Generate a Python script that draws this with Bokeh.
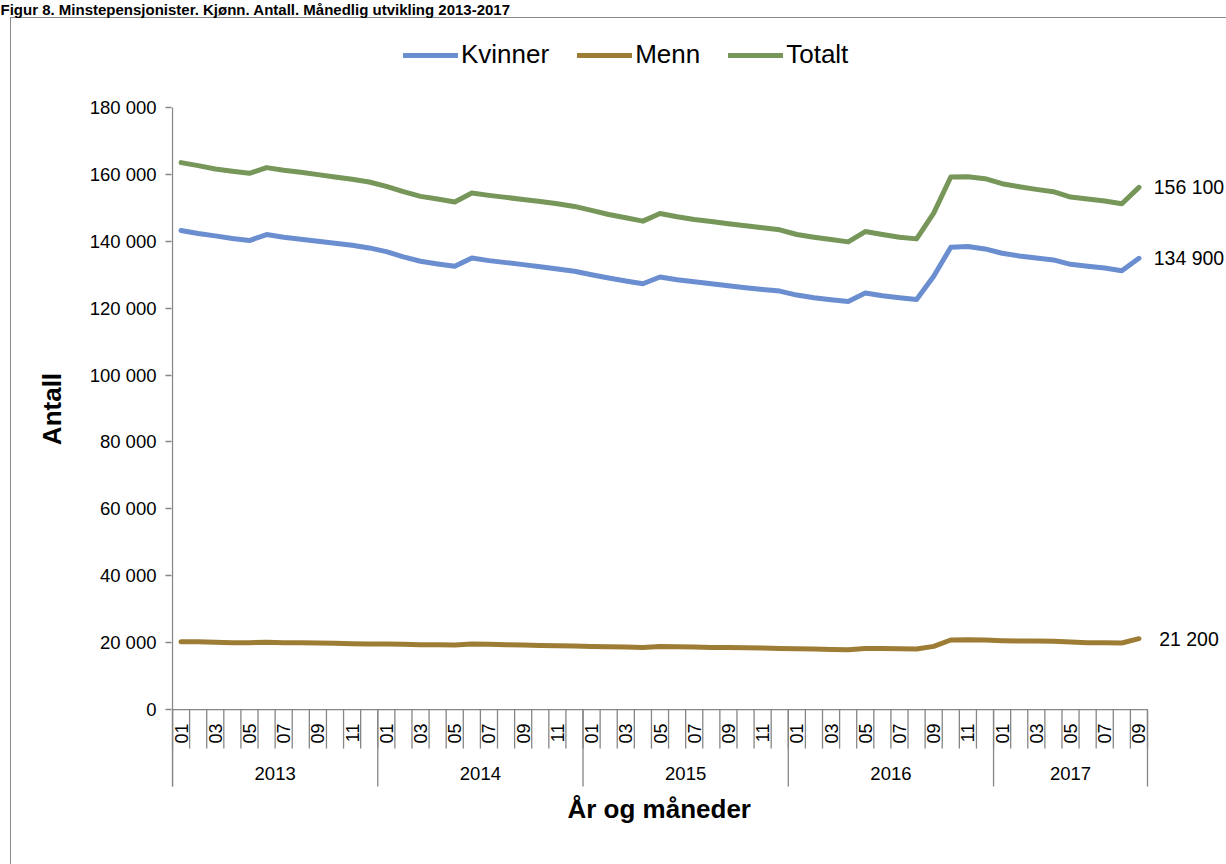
import math
from bokeh.plotting import figure
from bokeh.models import (Range1d, FixedTicker, Legend, LegendItem, Label, Title)
from bokeh.embed import file_html
from bokeh.resources import INLINE
from bokeh.core.properties import value

# ---------------- data ----------------
YEARS = ["2013", "2014", "2015", "2016", "2017"]
MONTHS_PER_YEAR = [12, 12, 12, 12, 9]
MONTH_NAMES = ["01", "02", "03", "04", "05", "06", "07", "08", "09", "10", "11", "12"]

KVINNER = [143200, 142300, 141600, 140800, 140200, 142000, 141200, 140600, 140000, 139400, 138800, 138000,
           136900, 135300, 134000, 133200, 132500, 135000, 134200, 133600, 133000, 132400, 131700, 131000,
           130000, 129000, 128100, 127300, 129300, 128500, 127900, 127300, 126700, 126100, 125600, 125100,
           123900, 123100, 122500, 122000, 124500, 123700, 123100, 122600, 129500, 138200, 138400, 137700,
           136400, 135600, 135000, 134400, 133100, 132500, 132000, 131200, 134900]

MENN = [20300, 20300, 20100, 20000, 20000, 20100, 20000, 20000, 19900, 19800, 19700, 19600,
        19600, 19500, 19400, 19400, 19300, 19600, 19500, 19400, 19300, 19200, 19100, 19000,
        18900, 18800, 18700, 18600, 18900, 18800, 18700, 18600, 18600, 18500, 18400, 18300,
        18200, 18100, 18000, 17900, 18300, 18300, 18200, 18100, 18900, 20800, 20900, 20800,
        20600, 20500, 20500, 20400, 20200, 20000, 20000, 19900, 21200]

TOTALT = [163500, 162600, 161600, 160900, 160300, 162000, 161200, 160600, 159900, 159200, 158500, 157700,
          156400, 154800, 153400, 152600, 151700, 154400, 153700, 153100, 152500, 151900, 151200, 150400,
          149200, 148000, 147000, 146000, 148300, 147300, 146500, 145900, 145200, 144600, 144000, 143400,
          142000, 141200, 140500, 139800, 142900, 142000, 141200, 140700, 148400, 159200, 159300, 158700,
          157200, 156300, 155500, 154800, 153200, 152600, 152000, 151200, 156100]

SERIES_NAMES = ["Kvinner", "Menn", "Totalt"]
Y_TICKS = [0, 20000, 40000, 60000, 80000, 100000, 120000, 140000, 160000, 180000]
Y_TICK_LABELS = ["0", "20 000", "40 000", "60 000", "80 000", "100 000",
                 "120 000", "140 000", "160 000", "180 000"]

TITLE = "Figur 8. Minstepensjonister. Kjønn. Antall. Månedlig utvikling 2013-2017"
X_TITLE = "År og måneder"
Y_TITLE = "Antall"

# ---------------- layout constants (px) ----------------
W, H = 1226, 864
AX_X = 172            # x of the value axis
FL = AX_X - 1         # frame left
FT = 18               # frame top
FBY = 798             # frame bottom
TOP_PX, ZERO_PY = 106, 709   # pixel rows of 180 000 and 0
AX_RIGHT = 1147
N = sum(MONTHS_PER_YEAR)
PPU = (AX_RIGHT - AX_X) / N
UPP = Y_TICKS[-1] / (ZERO_PY - TOP_PX)
X_START = -(AX_X - FL) / PPU
X_END = N + (W - AX_RIGHT) / PPU
Y_END = Y_TICKS[-1] + (TOP_PX - FT) * UPP
Y_START = -(FBY - ZERO_PY) * UPP

AXIS_COL = "#868686"
COLORS = ["#6A8ECF", "#9D7D35", "#779659"]
FONT = "Liberation Sans"

p = figure(width=W, height=H, output_backend="svg", toolbar_location=None,
           x_range=Range1d(X_START, X_END), y_range=Range1d(Y_START, Y_END),
           x_axis_location=None,
           min_border_left=FL, min_border_top=FT, min_border_bottom=H - FBY, min_border_right=0)
p.outline_line_color = None
p.grid.visible = False
p.background_fill_color = None
p.border_fill_color = None
# outer chart frame (drawn as the figure's CSS background)
p.styles = {
    "background-color": "white",
    "background-image": "linear-gradient(#898989, #898989), linear-gradient(#898989, #898989)",
    "background-size": "1px 100%, 100% 1px",
    "background-position": "10px 17px, 10px 17px",
    "background-repeat": "no-repeat",
}

# document title (cut off at the top in the reference)
p.title.text = TITLE
p.title.text_font = FONT
p.title.text_font_size = "15px"
p.title.text_font_style = "bold"
p.title.text_color = "black"
p.title.align = "left"
p.title.offset = -FL
p.title.standoff = 0
p.title.vertical_align = "top"

# value axis
ax = p.yaxis[0]
ax.ticker = FixedTicker(ticks=Y_TICKS)
ax.major_label_overrides = {t: l for t, l in zip(Y_TICKS, Y_TICK_LABELS)}
ax.axis_line_color = None
ax.major_tick_line_color = AXIS_COL
ax.major_tick_line_width = 1.3
ax.major_tick_out = 6
ax.major_tick_in = 0
ax.minor_tick_line_color = None
ax.major_label_standoff = 9
ax.major_label_text_font = FONT
ax.major_label_text_font_size = "18.5px"
ax.major_label_text_color = "black"
ax.axis_label = Y_TITLE
ax.axis_label_text_font = FONT
ax.axis_label_text_font_size = "26px"
ax.axis_label_text_font_style = "bold"
ax.axis_label_text_color = "black"
ax.axis_label_standoff = 20

# category axis title, centred under the plotted months
p.add_layout(Title(text=X_TITLE, align="left", offset=396, vertical_align="top", standoff=-10,
                   text_font=FONT, text_font_size="26px", text_font_style="bold",
                   text_color="black"), "below")

# axis lines and category ticks, drawn through the data scale
xs = [i + 0.5 for i in range(N)]
bounds = list(range(N + 1))
year_bounds = [0]
for m in MONTHS_PER_YEAR:
    year_bounds.append(year_bounds[-1] + m)

p.segment(x0=[0], y0=[-(786 - ZERO_PY) * UPP], x1=[0], y1=[Y_TICKS[-1]],
          line_color=AXIS_COL, line_width=1.3)
p.segment(x0=[0], y0=[0], x1=[N], y1=[0], line_color=AXIS_COL, line_width=1.3)
p.segment(x0=bounds, y0=[0] * len(bounds), x1=bounds, y1=[-39 * UPP] * len(bounds),
          line_color=AXIS_COL, line_width=1.3)
p.segment(x0=year_bounds, y0=[0] * len(year_bounds), x1=year_bounds,
          y1=[-(786 - ZERO_PY) * UPP] * len(year_bounds), line_color=AXIS_COL, line_width=1.3)

month_x, month_t = [], []
k = 0
for m in MONTHS_PER_YEAR:
    for j in range(m):
        if j % 2 == 0:
            month_x.append(xs[k])
            month_t.append(MONTH_NAMES[j])
        k += 1
p.text(x=month_x, y=[-14 * UPP] * len(month_x), text=month_t, angle=math.pi / 2,
       text_align="right", text_baseline="middle", text_font=value(FONT),
       text_font_size="18px", text_color="black")

year_cx = [(a + b) / 2 for a, b in zip(year_bounds[:-1], year_bounds[1:])]
p.text(x=year_cx, y=[-64 * UPP] * len(year_cx), text=YEARS, text_align="center",
       text_baseline="middle", text_font=value(FONT), text_font_size="18.5px", text_color="black")

# series
renderers = []
for name, ys, col in zip(SERIES_NAMES, [KVINNER, MENN, TOTALT], COLORS):
    r = p.line(xs, ys, line_color=col, line_width=5, line_join="round", line_cap="round")
    renderers.append(r)

# end labels
for ys in [TOTALT, KVINNER, MENN]:
    p.add_layout(Label(x=xs[-1], y=ys[-1], x_offset=50,
                       text=f"{ys[-1]:,}".replace(",", " "),
                       text_align="center", text_baseline="middle",
                       text_font=FONT, text_font_size="19.5px", text_color="black"))

# legend
legend = Legend(items=[LegendItem(label=n, renderers=[r]) for n, r in zip(SERIES_NAMES, renderers)],
                orientation="horizontal", location=(403 - FL, FBY - 42 - 28),
                label_text_font=FONT, label_text_font_size="26px", label_text_color="black",
                glyph_width=55, glyph_height=28, label_height=28, label_standoff=3,
                spacing=28, padding=0, margin=0, border_line_alpha=0, background_fill_alpha=0)
p.add_layout(legend)

open("out.html", "w").write(file_html(p, INLINE))
